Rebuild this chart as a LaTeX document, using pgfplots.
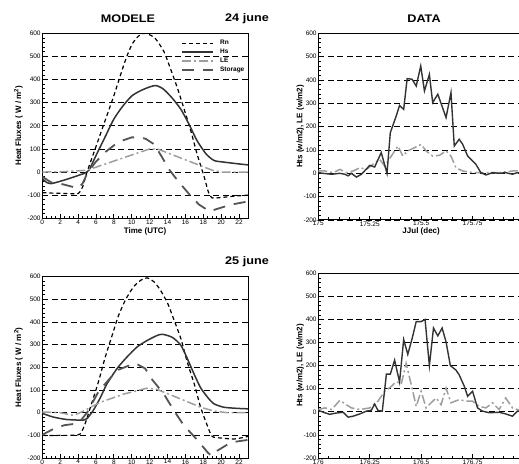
\documentclass[border=0pt]{standalone}
\usepackage{fontspec}
\setmainfont{Liberation Sans}
\usepackage{pgfplots}
\pgfplotsset{compat=1.18}

\definecolor{hscol}{gray}{0.2}
\definecolor{lecol}{gray}{0.62}
\definecolor{stcol}{gray}{0.33}

\pgfplotsset{
  panel/.style={
    scale only axis, width=205.7pt, anchor=south west,
    ymin=-200, ymax=600, ytick={-200,-100,...,600}, minor y tick num=4,
    ymajorgrids,
    major grid style={black, line width=0.8pt, dash pattern=on 6pt off 3.5pt},
    tick align=inside, xtick pos=bottom, ytick pos=left,
    major tick length=4pt, minor tick length=2.5pt,
    every tick/.style={black, line width=0.7pt},
    axis line style={black, line width=1pt},
    tick label style={font=\fontsize{6.5}{7}\selectfont},
    xticklabel style={inner sep=1.3pt},
    yticklabel style={inner sep=1.5pt},
    /pgf/number format/assume math mode=true,
    label style={font=\bfseries\fontsize{8}{9}\selectfont},
    scaled x ticks=false,
  },
  model/.style={panel, xmin=0, xmax=23, xtick={0,2,...,22}, minor x tick num=3,
    xlabel={Time (UTC)}, ylabel={Heat Fluxes ( W / m\textsuperscript{2})},
    ylabel style={at={(axis description cs:-0.116,0.5)}, anchor=center},
    xlabel style={at={(axis description cs:0.5,-0.07)}, anchor=center}},
  obs/.style={panel, minor x tick num=4,
    /pgf/number format/.cd, fixed, precision=2, /pgfplots/.cd,
    xlabel={JJul (dec)}, ylabel={Hts (w/m2), LE (w/m2)},
    ylabel style={at={(axis description cs:-0.087,0.5)}, anchor=center},
    xlabel style={at={(axis description cs:0.5,-0.062)}, anchor=center}},
  rn/.style={black, line width=1.2pt, dash pattern=on 4pt off 3pt, smooth, tension=0.4},
  hs/.style={hscol, line width=1.5pt, smooth, tension=0.4},
  hsd/.style={hscol, line width=1.4pt},
  le/.style={lecol, line width=1.5pt, dash pattern=on 9pt off 3pt on 2pt off 3pt},
  st/.style={stcol, line width=1.8pt, dash pattern=on 12pt off 9pt},
}

\begin{document}
\begin{tikzpicture}
\path[use as bounding box] (0,0) rectangle (519pt,463pt);
\clip (0,0) rectangle (519pt,463pt);

% ---- 24 june, model
\begin{axis}[model, at={(42.3pt,244.7pt)}, height=185pt,
  legend style={draw=none, fill=none, at={(0.675,0.971)}, anchor=north west,
    font=\bfseries\fontsize{6.5}{7}\selectfont, inner sep=0pt, row sep=0.5pt,
    nodes={inner sep=1pt, text height=5pt, text depth=1.5pt},
    /tikz/every odd column/.append style={column sep=5pt}},
  legend cell align=left,
  legend image code/.code={\draw[#1] (0pt,0pt) -- (31pt,0pt);}]
\addplot[rn] coordinates {(0,-89) (1,-91) (2,-92) (3,-93) (4,-93) (4.5,-65) (5,0)
  (6,110) (7,220) (8,330) (9,450) (9.5,505) (10,550) (10.5,578) (11,595) (11.6,600)
  (12.6,579) (13.6,521) (14.3,450) (15.1,364) (15.8,279) (16.6,179) (17.3,79)
  (18.1,-21) (18.6,-90) (19,-112) (20,-110) (21.5,-104) (23,-100)};
\addlegendentry{Rn}
\addplot[hs] coordinates {(0,-29) (0.5,-45) (1,-50) (2,-40) (3,-28) (4,-15) (4.8,-4)
  (5.2,7) (6.1,79) (7,150) (8,229) (9,285) (10,329) (11,352) (12,368) (12.7,374)
  (13.5,360) (14.5,321) (15.5,271) (16.4,207) (17.3,136) (18.3,79) (19.2,50)
  (20.3,43) (21.8,36) (23,31)};
\addlegendentry{Hs}
\addplot[le] coordinates {(0,0) (2,1) (4,5) (5,8) (12,100) (13,98) (19,8) (20,0) (23,0)};
\addlegendentry{LE}
\addplot[st] coordinates {(0,-20) (1,-45) (2,-50) (3,-60) (4,-70) (4.5,-50) (5.1,0)
  (6,45) (7,85) (7.5,100) (8.5,130) (10,150) (11,150) (11.6,143) (12.5,120)
  (13.3,70) (14.2,10) (15.2,-40) (16.3,-90) (17.5,-140) (18.7,-170) (19.5,-160)
  (21.1,-141) (23,-127)};
\addlegendentry{Storage}
\end{axis}

% ---- 24 june, data
\begin{axis}[obs, at={(318.3pt,243pt)}, height=186.7pt, xmin=175, xmax=176,
  xtick={175,175.25,175.5,175.75,176}]
\addplot[le] coordinates {(175.000,10) (175.032,10) (175.073,3) (175.105,17)
  (175.137,3) (175.169,10) (175.202,24) (175.234,17) (175.266,39) (175.298,60)
  (175.323,31) (175.355,74) (175.387,117) (175.411,74) (175.435,96) (175.468,110)
  (175.500,124) (175.524,96) (175.556,74) (175.589,77) (175.621,96) (175.645,74)
  (175.669,24) (175.702,10) (175.750,3) (175.815,3) (175.879,3) (175.944,10)
  (175.992,10)};
\addplot[hsd] coordinates {(175.000,3) (175.032,-1) (175.065,-4) (175.105,0)
  (175.129,-4) (175.145,-11) (175.161,0) (175.185,-16) (175.210,-4) (175.250,34)
  (175.274,27) (175.306,89) (175.334,0) (175.350,174) (175.379,246) (175.395,291)
  (175.415,274) (175.432,406) (175.456,403) (175.476,374) (175.498,460)
  (175.516,353) (175.540,424) (175.556,303) (175.581,339) (175.621,239)
  (175.645,346) (175.661,117) (175.685,146) (175.702,124) (175.726,74)
  (175.766,39) (175.790,3) (175.815,-7) (175.847,3) (175.879,0) (175.911,3)
  (175.944,-4) (175.968,3) (175.992,0)};
\end{axis}

% ---- 25 june, model
\begin{axis}[model, at={(42.3pt,5pt)}, height=181.3pt]
\addplot[rn] coordinates {(0,-100) (1,-101) (2,-100) (3,-100) (4.2,-95) (4.8,-47)
  (5.5,39) (6.3,139) (7,240) (7.8,340) (8.5,426) (9.3,498) (10.2,555) (11,584)
  (11.7,595) (12.5,577) (13.2,541) (14,484) (14.7,412) (15.5,326) (16.2,225)
  (17,125) (17.7,24) (18.5,-62) (19,-105) (20,-112) (21.5,-116) (23,-105)};
\addplot[hs] coordinates {(0,-3) (1.2,-19) (2.7,-30) (4.6,-33) (5,-26) (5.7,10)
  (6.5,67) (7.2,125) (8.4,197) (9.5,247) (10.6,290) (11.7,318) (12.8,340)
  (13.4,346) (14.2,338) (14.7,328) (15.5,297) (16.2,240) (17,168) (17.7,110)
  (18.5,67) (19.2,39) (20.3,24) (21.8,19) (23,17)};
\addplot[le] coordinates {(0,3) (2,0) (3.5,-12) (4.5,5) (5.4,24) (6.5,46) (9.1,82)
  (11.7,108) (12.8,103) (15.5,60) (17.7,24) (19.2,7) (20.7,0) (23,0)};
\addplot[st] coordinates {(0,-98) (0.6,-85) (1.4,-69) (2.5,-55) (3.5,-50) (4.1,-44)
  (5,0) (6.3,94) (7.6,153) (8.5,189) (9.5,205) (10.4,218) (11.5,195) (12.2,150)
  (13.6,82) (14.7,10) (15.8,-55) (17.3,-119) (18.5,-176) (18.9,-190) (19.6,-167)
  (21.1,-131) (23,-120)};
\end{axis}

% ---- 25 june, data
\begin{axis}[obs, at={(318.3pt,5pt)}, height=184.7pt, xmin=176, xmax=177,
  xtick={176,176.25,176.5,176.75,177}]
\addplot[le] coordinates {(176.000,10) (176.032,17) (176.065,10) (176.105,50)
  (176.129,35) (176.161,17) (176.202,10) (176.250,17) (176.290,46) (176.323,89)
  (176.355,110) (176.379,131) (176.403,120) (176.427,210) (176.452,117)
  (176.476,24) (176.500,89) (176.524,17) (176.548,39) (176.573,60) (176.597,31)
  (176.621,103) (176.645,39) (176.685,53) (176.718,46) (176.750,46) (176.782,24)
  (176.815,17) (176.847,39) (176.879,10) (176.911,60) (176.944,17) (176.968,10)
  (176.992,10)};
\addplot[hsd] coordinates {(176.000,6) (176.032,-4) (176.056,-11) (176.081,-6)
  (176.121,-2) (176.145,-23) (176.169,-19) (176.202,-9) (176.234,3) (176.258,7)
  (176.274,34) (176.290,6) (176.311,3) (176.331,163) (176.350,163) (176.371,224)
  (176.395,129) (176.415,313) (176.435,249) (176.456,317) (176.476,391)
  (176.500,391) (176.519,400) (176.540,200) (176.560,363) (176.581,329)
  (176.602,363) (176.621,303) (176.642,200) (176.669,181) (176.685,160)
  (176.710,110) (176.726,67) (176.750,89) (176.774,17) (176.798,3) (176.831,-4)
  (176.879,-2) (176.911,-9) (176.944,-19) (176.968,3) (176.992,5)};
\end{axis}

% ---- titles
\begin{scope}[every node/.style={font=\bfseries\fontsize{11}{12}\selectfont, xscale=1.15}]
\node at (128pt,444pt) {MODELE};
\node at (247pt,444pt) {24 june};
\node at (424pt,444pt) {DATA};
\node at (247pt,201pt) {25 june};
\end{scope}
\end{tikzpicture}
\end{document}
